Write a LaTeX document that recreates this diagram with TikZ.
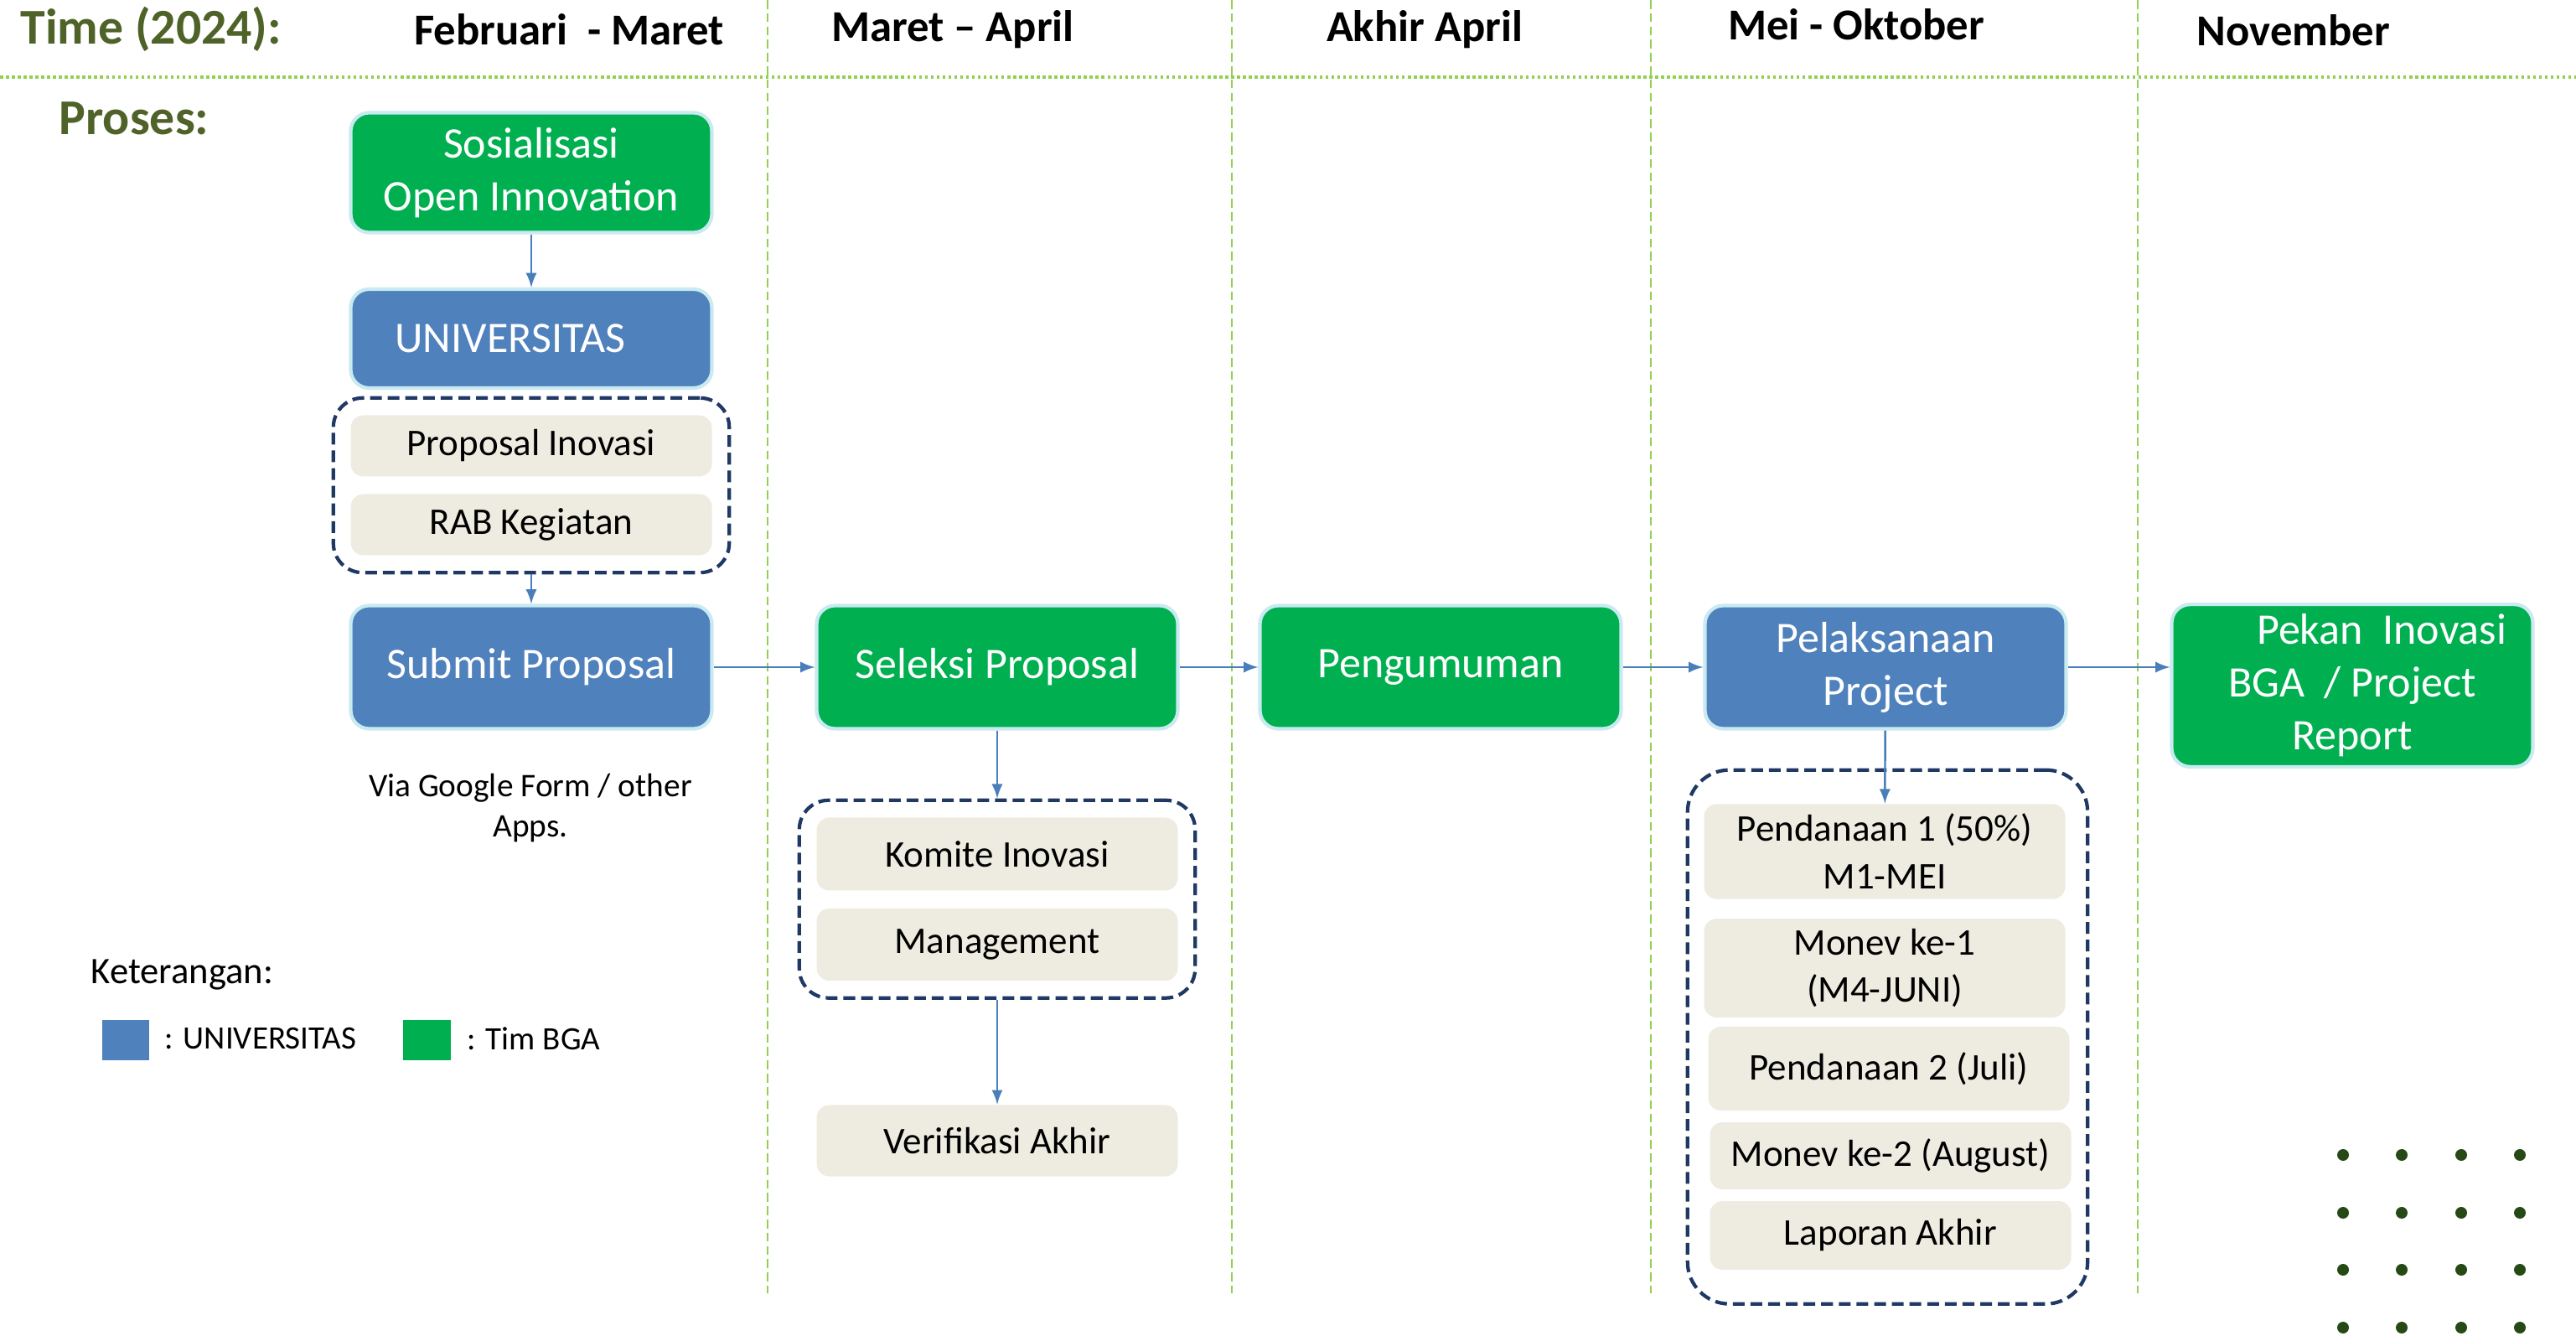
\documentclass[tikz,border=0pt]{standalone}
\usepackage{fontspec}
\setmainfont{Carlito}
\usetikzlibrary{fit}
\definecolor{bgagreen}{RGB}{0,176,80}
\definecolor{univblue}{RGB}{79,129,189}
\definecolor{docbeige}{RGB}{238,236,225}
\definecolor{titleolive}{RGB}{79,98,40}
\definecolor{gridgreen}{RGB}{146,208,80}
\definecolor{grpnavy}{RGB}{31,56,100}
\definecolor{arrowblue}{RGB}{74,126,187}
\definecolor{glow}{RGB}{200,234,240}
\definecolor{dotgreen}{RGB}{38,74,22}
\tikzset{
  mainbox/.style={draw=glow,line width=1.2pt,rounded corners=0.22cm,minimum width=4.31cm,minimum height=1.47cm,text=white,align=center,font=\fontsize{14.8}{17.9}\selectfont},
  bgabox/.style={mainbox,fill=bgagreen},
  unibox/.style={mainbox,fill=univblue},
  docbox/.style={fill=docbeige,rounded corners=0.15cm,minimum width=4.31cm,align=center,font=\fontsize{12.8}{16.2}\selectfont},
  grp/.style={draw=grpnavy,line width=1.2pt,dash pattern=on 4pt off 2pt,rounded corners=0.35cm},
  title/.style={font=\fontsize{17}{20}\selectfont\bfseries,text=titleolive,anchor=west,inner sep=0pt},
  month/.style={font=\fontsize{15}{18}\selectfont\bfseries},
  colline/.style={gridgreen,line width=0.6pt,dash pattern=on 3pt off 1.5pt},
  flow/.style={->,>=latex,arrowblue,line width=0.7pt},
}
\begin{document}
\begin{tikzpicture}
\useasboundingbox (0,0) rectangle (30.74,15.93);
\draw[gridgreen,line width=1pt,densely dotted] (0,15.01) -- (30.74,15.01);
\draw[colline] (9.16,15.93) -- (9.16,0.50); \draw[colline] (14.70,15.93) -- (14.70,0.50); \draw[colline] (19.70,15.93) -- (19.70,0.50); \draw[colline] (25.51,15.93) -- (25.51,0.50);

\node[title] (time) at (0.24,15.58) {Time (2024):};
\node[month] (febmar) at (6.79,15.58) {Februari\ \ - Maret};
\node[month] (marapr) at (11.37,15.58) {Maret – April};
\node[month] (akhirapr) at (17.00,15.58) {Akhir April};
\node[month] (meiokt) at (22.15,15.64) {Mei - Oktober};
\node[month] (nov) at (27.37,15.57) {November};
\node[title] (proses) at (0.70,14.52) {Proses:};

\node[bgabox,minimum height=1.43cm] (sos) at (6.34,13.87) {Sosialisasi\\Open Innovation};
\node[unibox,minimum height=1.18cm] (univ) at (6.34,11.89) {UNIVERSITAS\hspace*{0.5cm}};
\node[docbox,minimum height=0.73cm] (propinov) at (6.34,10.61) {Proposal Inovasi};
\node[docbox,minimum height=0.73cm] (rab) at (6.34,9.67) {RAB Kegiatan};
\node[grp,fit=(propinov)(rab),inner sep=0.2cm] (dokumen) {};
\node[unibox] (submit) at (6.34,7.97) {Submit Proposal};
\node[font=\fontsize{11.2}{13.4}\selectfont,align=center] (via) at (6.33,6.29) {Via Google Form / other\\Apps.};

\node[bgabox] (seleksi) at (11.90,7.97) {Seleksi Proposal};
\node[docbox,minimum height=0.87cm] (komite) at (11.90,5.74) {Komite Inovasi};
\node[docbox,minimum height=0.86cm] (mgmt) at (11.90,4.66) {Management};
\node[grp,fit=(komite)(mgmt),inner sep=0.2cm] (penilai) {};
\node[docbox,minimum height=0.85cm] (verif) at (11.90,2.32) {Verifikasi Akhir};

\node[bgabox] (peng) at (17.19,7.97) {Pengumuman};
\node[unibox] (pelak) at (22.50,7.97) {Pelaksanaan\\Project};
\node[docbox,minimum height=1.07cm] (pend1) at (22.49,5.77) {Pendanaan 1 (50\%)\\M1-MEI};
\node[docbox,minimum height=1.10cm] (monev1) at (22.49,4.38) {Monev ke-1\\(M4-JUNI)};
\node[docbox,minimum height=1.00cm] (pend2) at (22.54,3.18) {Pendanaan 2 (Juli)};
\node[docbox,minimum height=0.80cm] (monev2) at (22.56,2.14) {Monev ke-2 (August)};
\node[docbox,minimum height=0.82cm] (lapor) at (22.56,1.19) {Laporan Akhir};
\node[grp,fit=(pend1)(lapor),inner xsep=0.19cm,inner ysep=0.4cm,rounded corners=0.5cm] (tahapan) {};
\node[bgabox,minimum height=1.91cm] (pekan) at (28.07,7.75) {\hspace*{0.7cm}Pekan\ \ Inovasi\\BGA\ \ / Project\\Report};

\node[font=\fontsize{12.7}{15}\selectfont,anchor=west,inner sep=0pt] (ket) at (1.08,4.30) {Keterangan:};
\node[fill=univblue,minimum width=0.56cm,minimum height=0.48cm] (keyuniv) at (1.50,3.52) {};
\node[font=\fontsize{11.1}{13}\selectfont,anchor=west,inner sep=0pt] (keyunivtxt) at (1.96,3.54) {: UNIVERSITAS};
\node[fill=bgagreen,minimum width=0.57cm,minimum height=0.48cm] (keybga) at (5.09,3.52) {};
\node[font=\fontsize{11.1}{13}\selectfont,anchor=west,inner sep=0pt] (keybgatxt) at (5.57,3.54) {: Tim BGA};

\draw[flow] (sos) -- (univ); \draw[flow] (dokumen) -- (submit); \draw[flow] (submit) -- (seleksi); \draw[flow] (seleksi) -- (penilai); \draw[flow] (penilai) -- (verif); \draw[flow] (seleksi) -- (peng); \draw[flow] (peng) -- (pelak); \draw[flow] (pelak) -- (pend1); \draw[flow] (pelak.east) -- (pelak.east -| pekan.west);

\fill[dotgreen] (27.96,2.15) circle (0.07); \fill[dotgreen] (28.66,2.15) circle (0.07); \fill[dotgreen] (29.37,2.15) circle (0.07); \fill[dotgreen] (30.07,2.15) circle (0.07);
\fill[dotgreen] (27.96,1.46) circle (0.07); \fill[dotgreen] (28.66,1.46) circle (0.07); \fill[dotgreen] (29.37,1.46) circle (0.07); \fill[dotgreen] (30.07,1.46) circle (0.07);
\fill[dotgreen] (27.96,0.78) circle (0.07); \fill[dotgreen] (28.66,0.78) circle (0.07); \fill[dotgreen] (29.37,0.78) circle (0.07); \fill[dotgreen] (30.07,0.78) circle (0.07);
\fill[dotgreen] (27.96,0.09) circle (0.07); \fill[dotgreen] (28.66,0.09) circle (0.07); \fill[dotgreen] (29.37,0.09) circle (0.07); \fill[dotgreen] (30.07,0.09) circle (0.07);
\end{tikzpicture}
\end{document}
